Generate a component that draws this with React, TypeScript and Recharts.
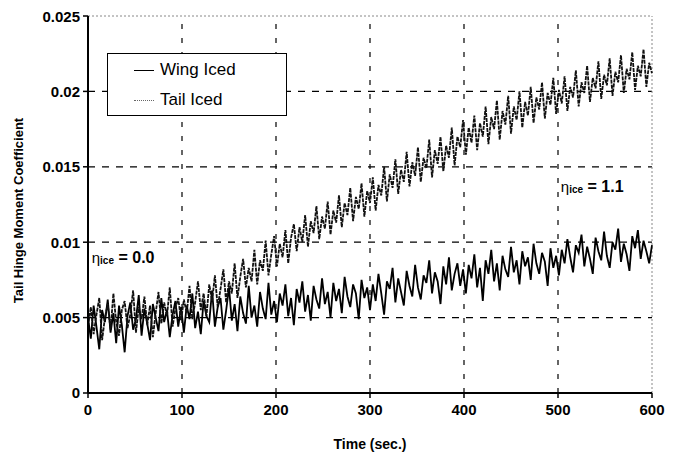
import React from "react";
import { LineChart, Line, XAxis, YAxis, ReferenceLine, ReferenceDot } from "recharts";

const timeSec = [
  0, 3, 6, 9, 12, 15, 18, 21, 24, 27, 30, 33, 36, 39, 42, 45, 48, 51, 54, 57, 60, 63, 66, 69, 72, 75, 78, 81, 84, 87, 90, 93, 96, 99,
  102, 105, 108, 111, 114, 117, 120, 123, 126, 129, 132, 135, 138, 141, 144, 147, 150, 153, 156, 159, 162, 165, 168, 171, 174, 177, 180, 183, 186, 189, 192, 195, 198,
  201, 204, 207, 210, 213, 216, 219, 222, 225, 228, 231, 234, 237, 240, 243, 246, 249, 252, 255, 258, 261, 264, 267, 270, 273, 276, 279, 282, 285, 288, 291, 294, 297, 300,
  303, 306, 309, 312, 315, 318, 321, 324, 327, 330, 333, 336, 339, 342, 345, 348, 351, 354, 357, 360, 363, 366, 369, 372, 375, 378, 381, 384, 387, 390, 393, 396, 399,
  402, 405, 408, 411, 414, 417, 420, 423, 426, 429, 432, 435, 438, 441, 444, 447, 450, 453, 456, 459, 462, 465, 468, 471, 474, 477, 480, 483, 486, 489, 492, 495, 498, 501,
  504, 507, 510, 513, 516, 519, 522, 525, 528, 531, 534, 537, 540, 543, 546, 549, 552, 555, 558, 561, 564, 567, 570, 573, 576, 579, 582, 585, 588, 591, 594, 597, 600,
];

const wingIced = [
  0.0050, 0.0036, 0.0058, 0.0044, 0.0029, 0.0055, 0.0047, 0.0062, 0.0040, 0.0053, 0.0033, 0.0058, 0.0045, 0.0027, 0.0051, 0.0060, 0.0042, 0.0049, 0.0065, 0.0038, 0.0056, 0.0046, 0.0035, 0.0059, 0.0050, 0.0041, 0.0063, 0.0047, 0.0055, 0.0037, 0.0052, 0.0061, 0.0044, 0.0057,
  0.0040, 0.0058, 0.0049, 0.0066, 0.0043, 0.0054, 0.0039, 0.0061, 0.0051, 0.0047, 0.0068, 0.0044, 0.0057, 0.0063, 0.0042, 0.0055, 0.0070, 0.0048, 0.0059, 0.0041, 0.0064, 0.0053, 0.0046, 0.0071, 0.0050, 0.0058, 0.0044, 0.0067, 0.0056, 0.0049, 0.0073, 0.0052, 0.0061,
  0.0047, 0.0066, 0.0058, 0.0072, 0.0051, 0.0063, 0.0045, 0.0069, 0.0060, 0.0074, 0.0054, 0.0065, 0.0048, 0.0071, 0.0062, 0.0056, 0.0076, 0.0059, 0.0067, 0.0050, 0.0073, 0.0061, 0.0069, 0.0053, 0.0077, 0.0064, 0.0057, 0.0072, 0.0066, 0.0049, 0.0075, 0.0063, 0.0070, 0.0055,
  0.0072, 0.0061, 0.0079, 0.0066, 0.0052, 0.0074, 0.0069, 0.0083, 0.0060, 0.0076, 0.0067, 0.0058, 0.0081, 0.0071, 0.0064, 0.0085, 0.0070, 0.0062, 0.0078, 0.0073, 0.0088, 0.0066, 0.0080, 0.0074, 0.0059, 0.0084, 0.0072, 0.0090, 0.0068, 0.0079, 0.0086, 0.0071, 0.0082,
  0.0066, 0.0085, 0.0076, 0.0092, 0.0070, 0.0083, 0.0061, 0.0088, 0.0079, 0.0095, 0.0074, 0.0086, 0.0068, 0.0091, 0.0082, 0.0077, 0.0097, 0.0080, 0.0088, 0.0072, 0.0094, 0.0084, 0.0090, 0.0075, 0.0099, 0.0086, 0.0079, 0.0093, 0.0087, 0.0071, 0.0096, 0.0083, 0.0091, 0.0078,
  0.0095, 0.0086, 0.0102, 0.0090, 0.0080, 0.0098, 0.0093, 0.0105, 0.0084, 0.0097, 0.0089, 0.0079, 0.0103, 0.0094, 0.0088, 0.0107, 0.0091, 0.0083, 0.0100, 0.0095, 0.0109, 0.0087, 0.0099, 0.0092, 0.0081, 0.0104, 0.0096, 0.0108, 0.0089, 0.0101, 0.0094, 0.0086, 0.0098,
];

const tailIced = [
  0.0044, 0.0057, 0.0039, 0.0052, 0.0063, 0.0035, 0.0050, 0.0059, 0.0042, 0.0066, 0.0047, 0.0038, 0.0055, 0.0061, 0.0043, 0.0052, 0.0068, 0.0040, 0.0057, 0.0049, 0.0064, 0.0045, 0.0058, 0.0037, 0.0053, 0.0067, 0.0046, 0.0060, 0.0051, 0.0070, 0.0044, 0.0056, 0.0063, 0.0048,
  0.0062, 0.0053, 0.0071, 0.0049, 0.0060, 0.0074, 0.0055, 0.0066, 0.0051, 0.0072, 0.0061, 0.0078, 0.0057, 0.0069, 0.0082, 0.0060, 0.0074, 0.0066, 0.0086, 0.0063, 0.0077, 0.0089, 0.0070, 0.0083, 0.0074, 0.0095, 0.0072, 0.0088, 0.0081, 0.0101, 0.0078, 0.0092, 0.0104,
  0.0084, 0.0099, 0.0090, 0.0108, 0.0086, 0.0103, 0.0112, 0.0094, 0.0110, 0.0100, 0.0118, 0.0097, 0.0114, 0.0106, 0.0124, 0.0102, 0.0117, 0.0109, 0.0127, 0.0105, 0.0121, 0.0113, 0.0131, 0.0110, 0.0126, 0.0118, 0.0136, 0.0114, 0.0130, 0.0122, 0.0139, 0.0117, 0.0134, 0.0126,
  0.0143, 0.0121, 0.0138, 0.0131, 0.0150, 0.0127, 0.0145, 0.0136, 0.0155, 0.0132, 0.0148, 0.0140, 0.0160, 0.0137, 0.0153, 0.0144, 0.0163, 0.0140, 0.0156, 0.0149, 0.0168, 0.0143, 0.0161, 0.0152, 0.0170, 0.0147, 0.0164, 0.0156, 0.0176, 0.0151, 0.0170, 0.0163, 0.0181,
  0.0158, 0.0176, 0.0166, 0.0184, 0.0161, 0.0179, 0.0170, 0.0190, 0.0165, 0.0183, 0.0175, 0.0194, 0.0168, 0.0187, 0.0178, 0.0197, 0.0172, 0.0190, 0.0181, 0.0200, 0.0176, 0.0193, 0.0184, 0.0203, 0.0179, 0.0196, 0.0188, 0.0206, 0.0182, 0.0199, 0.0191, 0.0209, 0.0185, 0.0201,
  0.0192, 0.0210, 0.0187, 0.0203, 0.0196, 0.0214, 0.0190, 0.0206, 0.0199, 0.0217, 0.0193, 0.0209, 0.0202, 0.0220, 0.0195, 0.0211, 0.0204, 0.0222, 0.0197, 0.0213, 0.0206, 0.0224, 0.0199, 0.0215, 0.0208, 0.0226, 0.0201, 0.0217, 0.0210, 0.0228, 0.0203, 0.0219, 0.0212,
];

const xTicks = [0, 100, 200, 300, 400, 500, 600];
const yTicks = [0, 0.005, 0.01, 0.015, 0.02, 0.025];
const gridX = [100, 200, 300, 400, 500];
const gridY = [0.005, 0.01, 0.015, 0.02];
const seriesNames = ["Wing Iced", "Tail Iced"];
const annotations = [
  { t: 4, v: 0.0086, value: "0.0" },
  { t: 503, v: 0.0133, value: "1.1" },
];

const data = timeSec.map((t, i) => ({ t, wing: wingIced[i], tail: tailIced[i] }));

const FONT = "'Liberation Sans', Arial, sans-serif";
const tickStyle = { fontFamily: FONT, fontSize: 15, fontWeight: 700, fill: "#000" };

const EtaLabel = (value: string) => (props: any) => {
  const vb = props.viewBox || {};
  const x = (vb.x ?? 0) + (vb.width ?? 0) / 2;
  const y = (vb.y ?? 0) + (vb.height ?? 0) / 2;
  return (
    <text x={x} y={y} fontFamily={FONT} fontWeight={700} fill="#000">
      <tspan fontSize={15} fontWeight={400}>η</tspan>
      <tspan fontSize={10} dy={1}>ice</tspan>
      <tspan fontSize={16} dy={-1}>{" = " + value}</tspan>
    </text>
  );
};

export default function App() {
  return (
    <div style={{ position: "relative", width: 674, height: 447 }}>
      <LineChart
        width={674}
        height={447}
        data={data}
        margin={{ top: 8, right: 30, bottom: 30, left: 0 }}
      >
        <XAxis
          dataKey="t"
          type="number"
          domain={[0, 600]}
          ticks={xTicks}
          tick={tickStyle}
          tickSize={5}
          tickMargin={6}
          axisLine={{ stroke: "#000", strokeWidth: 2 }}
          tickLine={{ stroke: "#000", strokeWidth: 1.5 }}
          height={32}
          label={{
            value: "Time (sec.)",
            position: "insideBottom",
            offset: -24,
            style: { fontFamily: FONT, fontSize: 14, fontWeight: 700, fill: "#000" },
          }}
        />
        <YAxis
          type="number"
          domain={[0, 0.025]}
          ticks={yTicks}
          tick={tickStyle}
          tickSize={5}
          tickMargin={3}
          width={80}
          axisLine={{ stroke: "#000", strokeWidth: 2 }}
          tickLine={{ stroke: "#000", strokeWidth: 1.5 }}
          label={{
            content: (props: any) => {
              const vb = props.viewBox || {};
              const cx = (vb.x ?? 0) + 10;
              const cy = (vb.y ?? 0) + (vb.height ?? 0) / 2 + 6;
              return (
                <text
                  x={cx}
                  y={cy}
                  transform={`rotate(-90 ${cx} ${cy})`}
                  textAnchor="middle"
                  dominantBaseline="central"
                  fontFamily={FONT}
                  fontSize={13}
                  fontWeight={700}
                  fill="#000"
                >
                  Tail Hinge Moment Coefficient
                </text>
              );
            },
          }}
        />
        {gridY.map((v) => (
          <ReferenceLine key={"gy" + v} y={v} stroke="#000" strokeWidth={1.2} strokeDasharray="7 7" />
        ))}
        {gridX.map((v) => (
          <ReferenceLine key={"gx" + v} x={v} stroke="#000" strokeWidth={1.2} strokeDasharray="5 9" />
        ))}
        <ReferenceLine y={0.025} stroke="#888" strokeWidth={1} strokeDasharray="2 2" />
        <ReferenceLine x={600} stroke="#888" strokeWidth={1} strokeDasharray="2 2" />
        <Line
          dataKey="wing"
          name={seriesNames[0]}
          stroke="#000"
          strokeWidth={1.8}
          dot={false}
          isAnimationActive={false}
        />
        <Line
          dataKey="tail"
          name={seriesNames[1]}
          stroke="#111"
          strokeWidth={1.8}
          strokeDasharray="4 1"
          dot={false}
          isAnimationActive={false}
        />
        {annotations.map((a) => (
          <ReferenceDot
            key={a.value}
            x={a.t}
            y={a.v}
            r={0}
            fill="none"
            stroke="none"
            label={{ content: EtaLabel(a.value) }}
          />
        ))}
      </LineChart>
      <div
        style={{
          position: "absolute",
          left: 99,
          top: 45,
          width: 178,
          height: 61,
          border: "1.5px solid #000",
          background: "#fff",
          fontFamily: FONT,
          fontSize: 17,
          color: "#000",
        }}
      >
        {seriesNames.map((name, i) => (
          <div
            key={name}
            style={{ position: "absolute", left: 26, top: i === 0 ? 6 : 36, display: "flex", alignItems: "center" }}
          >
            <div
              style={{
                width: 20,
                height: 0,
                borderTop: i === 0 ? "1.5px solid #000" : "1.5px dotted #666",
                marginRight: 6,
              }}
            />
            <span>{name}</span>
          </div>
        ))}
      </div>
    </div>
  );
}
